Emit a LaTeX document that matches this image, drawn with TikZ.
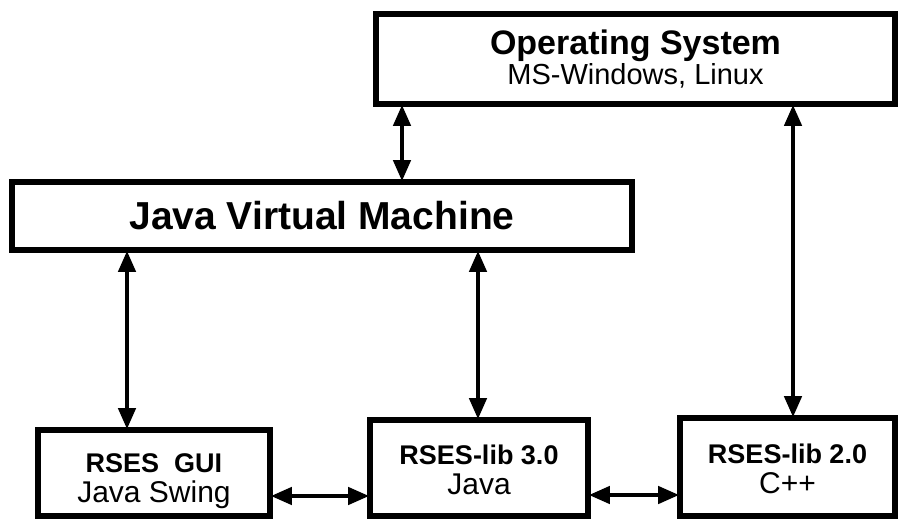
\documentclass[tikz,border=0pt]{standalone}
\usepackage{fontspec}
\setmainfont{Liberation Sans}
\usetikzlibrary{arrows.meta}
\tikzset{
box/.style={draw,line width=2.8pt,inner sep=0pt,align=center},
link/.style={line width=2.1pt,{Triangle[length=10.5pt,width=8.5pt]}-{Triangle[length=10.5pt,width=8.5pt]},shorten <=-1pt,shorten >=-1pt}
}
\newcommand\boxtitle[1]{{\fontsize{13.5pt}{15pt}\selectfont\bfseries #1}}
\newcommand\boxsub[1]{{\fontsize{15pt}{15pt}\selectfont #1}}
\begin{document}
\begin{tikzpicture}[x=0.5pt,y=-0.5pt]
\useasboundingbox(0,0)rectangle(903,519);
\node[box,minimum width=259.5pt,minimum height=45pt](os)at(635.5,59){\fontsize{17pt}{17pt}\selectfont\bfseries Operating System\\\fontsize{14.5pt}{16pt}\selectfont MS-Windows, Linux};
\node[box,minimum width=310pt,minimum height=34pt](jvm)at(322,216){\fontsize{19.5pt}{20pt}\selectfont\bfseries Java Virtual Machine};
\node[box,minimum width=116pt,minimum height=43pt](gui)at(154,473){\rule{0pt}{18pt}\boxtitle{RSES~~GUI}\\[3pt]\boxsub{Java Swing}};
\node[box,minimum width=109pt,minimum height=48pt](libj)at(479,468){\rule{0pt}{12pt}\boxtitle{RSES-lib 3.0}\\[3pt]\boxsub{Java}};
\node[box,minimum width=107.5pt,minimum height=49pt](libc)at(787.5,467){\rule{0pt}{12pt}\boxtitle{RSES-lib 2.0}\\[3pt]\boxsub{C++}};
\draw[link](402,0|-os.south)--(402,0|-jvm.north);
\draw[link](793,0|-os.south)--(793,0|-libc.north);
\draw[link](127,0|-jvm.south)--(127,0|-gui.north);
\draw[link](478,0|-jvm.south)--(478,0|-libj.north);
\draw[link](gui.east|-0,496)--(libj.west|-0,496);
\draw[link](libj.east|-0,495)--(libc.west|-0,495);
\end{tikzpicture}
\end{document}
